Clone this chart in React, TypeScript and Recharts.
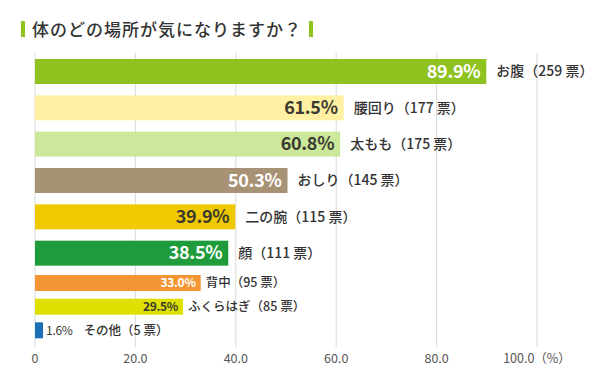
import React from "react";
import { BarChart, Bar, XAxis, YAxis, CartesianGrid } from "recharts";

const parts = ["お腹", "腰回り", "太もも", "おしり", "二の腕", "顔", "背中", "ふくらはぎ", "その他"];
const percents = [89.9, 61.5, 60.8, 50.3, 39.9, 38.5, 33.0, 29.5, 1.6];
const votes = [259, 177, 175, 145, 115, 111, 95, 85, 5];
const xTicks = [0, 20, 40, 60, 80, 100];

const COLORS = [
  "#8dc21f", "#fff0a3", "#cce89b", "#a89275", "#f0c900",
  "#1e9b3a", "#f39533", "#dde000", "#1a6fb7",
];

const FONT = '"Noto Sans CJK JP", "Noto Sans", sans-serif';
const GRID = "#d9d9d9";
const TEXT = "#333";

const rows = parts.map((name, i) => ({
  name,
  pct: percents[i],
  votes: votes[i],
  color: COLORS[i],
}));
// top six are drawn as thick bars, the rest as thin ones
const bigRows = rows.slice(0, 6);
const smallRows = rows.slice(6);

const isLight = (hex: string) => {
  const r = parseInt(hex.slice(1, 3), 16);
  const g = parseInt(hex.slice(3, 5), 16);
  const b = parseInt(hex.slice(5, 7), 16);
  return 0.299 * r + 0.587 * g + 0.114 * b > 175;
};

const makeShape = (big: boolean) => (props: any) => {
  const { x, y, width, height, payload } = props;
  const cy = y + height / 2;
  const fs = big ? 18 : 12;
  const nameFs = big ? 14 : 12.5;
  const inside = width > fs * 2.6;
  const valText = `${payload.pct.toFixed(1)}%`;
  const valX = inside ? x + width - (big ? 6 : 5) : x + width + 3;
  const nameX = inside ? x + width + (big ? 10 : 5) : valX + fs * 2.2 + 11;
  return (
    <g>
      <rect x={x} y={y} width={width} height={height} fill={payload.color} />
      <text
        x={valX}
        y={cy}
        dy="0.35em"
        textAnchor={inside ? "end" : "start"}
        fontSize={fs}
        fontWeight={inside ? 700 : 400}
        fill={inside && !isLight(payload.color) ? "#fff" : "#3a3a30"}
        letterSpacing={-0.3}
      >
        {valText}
      </text>
      <text x={nameX} y={cy} dy="0.35em" fontSize={nameFs} fontWeight={500} fill={TEXT}>
        {payload.name}（{payload.votes} 票）
      </text>
    </g>
  );
};

const tickFmt = (v: number) => (v === 0 ? "0" : v === 100 ? "100.0（%）" : v.toFixed(1));

const margin = { top: 0, right: 78, bottom: 0, left: 35 };

const Marker = () => <div style={{ width: 4, height: 16, background: "#8dc21f" }} />;

export default function App() {
  return (
    <div
      style={{
        position: "absolute",
        top: 0,
        left: 0,
        width: 615,
        height: 380,
        background: "#fff",
        fontFamily: FONT,
      }}
    >
      <div
        style={{
          position: "absolute",
          left: 21,
          top: 17,
          height: 24,
          display: "flex",
          alignItems: "center",
          gap: 7,
        }}
      >
        <Marker />
        <div
          style={{
            fontSize: 17,
            fontWeight: 500,
            color: TEXT,
            lineHeight: "24px",
            letterSpacing: 1,
            whiteSpace: "nowrap",
          }}
        >
          体のどの場所が気になりますか？
        </div>
        <Marker />
      </div>

      <div style={{ position: "absolute", left: 0, top: 53 }}>
        <BarChart width={615} height={218} data={bigRows} layout="vertical" margin={margin}>
          <CartesianGrid horizontal={false} stroke={GRID} />
          <XAxis type="number" domain={[0, 100]} ticks={xTicks} hide />
          <YAxis type="category" dataKey="name" hide width={0} />
          <Bar dataKey="pct" barSize={25} isAnimationActive={false} shape={makeShape(true)} />
        </BarChart>
      </div>

      <div style={{ position: "absolute", left: 0, top: 271 }}>
        <BarChart width={615} height={101} data={smallRows} layout="vertical" margin={margin}>
          <CartesianGrid horizontal={false} stroke={GRID} />
          <XAxis
            type="number"
            domain={[0, 100]}
            ticks={xTicks}
            tickFormatter={tickFmt}
            axisLine={false}
            tickLine={{ stroke: GRID }}
            tickSize={5}
            tickMargin={7}
            height={30}
            tick={{ fill: "#555", fontSize: 12.5 }}
            interval={0}
          />
          <YAxis type="category" dataKey="name" hide width={0} />
          <Bar dataKey="pct" barSize={16} isAnimationActive={false} shape={makeShape(false)} />
        </BarChart>
      </div>
    </div>
  );
}
